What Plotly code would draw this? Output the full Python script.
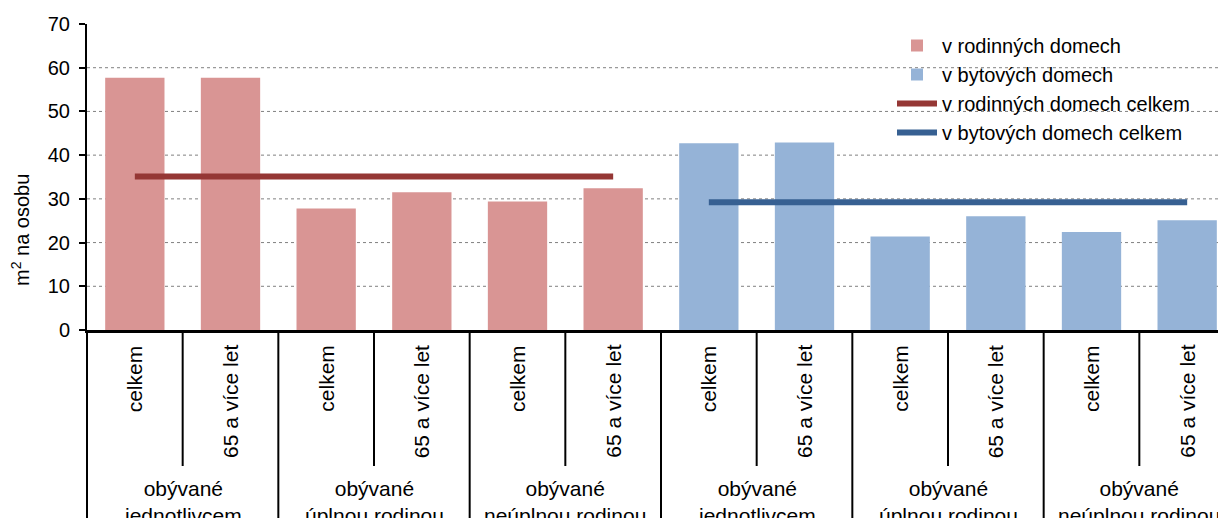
import plotly.graph_objects as go

# ---- data ----
sub_labels = ["celkem", "65 a více let"] * 6
group_labels = ["obývané<br>jednotlivcem", "obývané<br>úplnou rodinou", "obývané<br>neúplnou rodinou"] * 2
rodinne = [57.7, 57.7, 27.8, 31.5, 29.4, 32.4]
bytove = [42.7, 42.9, 21.4, 26.0, 22.4, 25.1]
rodinne_celkem = 35.1
bytove_celkem = 29.2
y_ticks = [0, 10, 20, 30, 40, 50, 60, 70]
series_names = ["v rodinných domech", "v bytových domech",
                "v rodinných domech celkem", "v bytových domech celkem"]

FONT = "Arial, Liberation Sans, sans-serif"
OFF = 8  # page body margin
W, H = 1227, 518
ML, MT = 87 - OFF, 24 - OFF
ZERO = 330 - OFF
MB = H - ZERO
plot_h = ZERO - MT
plot_w = W - ML

rod_x = list(range(len(rodinne)))
byt_x = list(range(len(rodinne), len(rodinne) + len(bytove)))

fig = go.Figure()
fig.add_trace(go.Bar(x=rod_x, y=rodinne, name=series_names[0], width=0.62,
                     marker=dict(color="#D99594", line=dict(width=0))))
fig.add_trace(go.Bar(x=byt_x, y=bytove, name=series_names[1], width=0.62,
                     marker=dict(color="#95B3D7", line=dict(width=0))))
fig.add_trace(go.Scatter(x=rod_x, y=[rodinne_celkem] * len(rod_x), mode="lines",
                         name=series_names[2], line=dict(color="#953735", width=6)))
fig.add_trace(go.Scatter(x=byt_x, y=[bytove_celkem] * len(byt_x), mode="lines",
                         name=series_names[3], line=dict(color="#376092", width=6)))

n = len(sub_labels)


def py(screen_y):
    return (ZERO - (screen_y - OFF)) / plot_h


def pxx(screen_x):
    return (screen_x - OFF - ML) / plot_w


shapes = []
for v in y_ticks[1:-1]:
    shapes.append(dict(type="line", xref="paper", yref="y", x0=0, x1=1, y0=v, y1=v,
                       line=dict(color="#808080", width=1, dash="dot"), layer="below"))

for i in range(n):
    xs = i + 0.5
    y1 = py(466) if i % 2 == 0 else py(540)
    shapes.append(dict(type="line", xref="x", yref="paper", x0=xs, x1=xs, y0=0, y1=y1,
                       line=dict(color="black", width=2)))
shapes.append(dict(type="line", xref="paper", yref="paper", x0=0, x1=0, y0=0, y1=py(540),
                   line=dict(color="black", width=2)))

annotations = []
for i, t in enumerate(sub_labels):
    annotations.append(dict(x=i, xref="x", y=py(343), yref="paper", text=t,
                            textangle=-90, showarrow=False, yanchor="top", xanchor="center",
                            font=dict(family=FONT, size=21, color="black")))
for k, t in enumerate(group_labels):
    annotations.append(dict(x=2 * k + 0.5, xref="x", y=py(475), yref="paper", text=t,
                            showarrow=False, yanchor="top", xanchor="center",
                            font=dict(family=FONT, size=21, color="black")))
annotations.append(dict(x=pxx(20), xref="paper", y=py(230), yref="paper",
                        text="m<sup>2</sup> na osobu", textangle=-90, showarrow=False,
                        xanchor="center", yanchor="middle",
                        font=dict(family=FONT, size=20, color="black")))

fig.update_layout(
    width=W, height=H,
    margin=dict(l=ML, r=0, t=MT, b=MB, autoexpand=False),
    plot_bgcolor="white", paper_bgcolor="white",
    font=dict(family=FONT, size=21, color="black"),
    showlegend=True,
    legend=dict(x=pxx(892), y=py(26), xanchor="left", yanchor="top", bgcolor="rgba(0,0,0,0)",
                font=dict(family=FONT, size=20, color="black"), tracegroupgap=0,
                itemwidth=40),
    shapes=shapes,
    annotations=annotations,
    xaxis=dict(range=[-0.5, n - 0.5], showticklabels=False, showgrid=False,
               zeroline=False, showline=True, linecolor="black", linewidth=2.5, ticks=""),
    yaxis=dict(range=[0, 70], tickvals=y_ticks, showgrid=False, zeroline=False,
               showline=True, linecolor="black", linewidth=2, ticks="outside", ticklen=6,
               tickwidth=1.5, tickcolor="black", ticklabelstandoff=5,
               tickfont=dict(family=FONT, size=20, color="black")),
)

fig.write_html("out.html")
